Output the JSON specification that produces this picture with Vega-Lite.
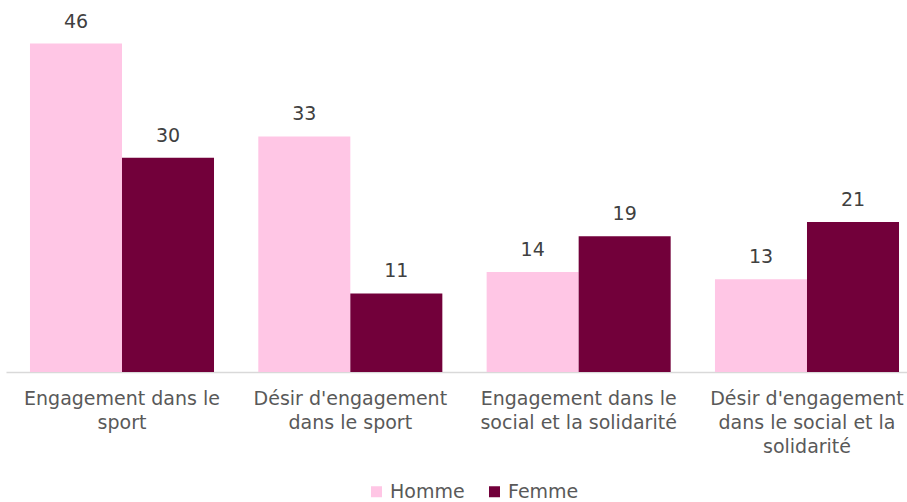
{
  "$schema": "https://vega.github.io/schema/vega-lite/v6.json",
  "width": 901,
  "height": 357,
  "autosize": {"type": "none"},
  "padding": {"left": 6, "top": 15, "right": 0, "bottom": 130},
  "background": "white",
  "config": {
    "view": {"stroke": null},
    "font": "DejaVu Sans"
  },
  "data": {
    "values": [
      {"cat": "Engagement dans le|sport", "sexe": "Homme", "val": 46},
      {"cat": "Engagement dans le|sport", "sexe": "Femme", "val": 30},
      {"cat": "Désir d'engagement|dans le sport", "sexe": "Homme", "val": 33},
      {"cat": "Désir d'engagement|dans le sport", "sexe": "Femme", "val": 11},
      {"cat": "Engagement dans le|social et la solidarité", "sexe": "Homme", "val": 14},
      {"cat": "Engagement dans le|social et la solidarité", "sexe": "Femme", "val": 19},
      {"cat": "Désir d'engagement|dans le social et la|solidarité", "sexe": "Homme", "val": 13},
      {"cat": "Désir d'engagement|dans le social et la|solidarité", "sexe": "Femme", "val": 21}
    ]
  },
  "encoding": {
    "x": {
      "field": "cat", "type": "nominal", "sort": null, "title": null,
      "scale": {"paddingInner": 0.194, "paddingOuter": 0.07, "align": 0.75},
      "axis": {
        "labelAngle": 0, "labelExpr": "split(datum.label, '|')",
        "labelFontSize": 19, "labelColor": "#595959", "labelLineHeight": 24,
        "labelPadding": 17, "ticks": false, "domainColor": "#d9d9d9", "domainWidth": 1.5,
        "labelLimit": 300
      }
    },
    "xOffset": {"field": "sexe", "type": "nominal", "sort": ["Homme", "Femme"], "scale": {"paddingInner": 0, "paddingOuter": 0}},
    "y": {"field": "val", "type": "quantitative", "scale": {"domain": [0, 50]}, "axis": null}
  },
  "layer": [
    {
      "mark": {"type": "bar"},
      "encoding": {
        "color": {
          "field": "sexe", "type": "nominal",
          "scale": {"domain": ["Homme", "Femme"], "range": ["#ffc6e5", "#72003a"]},
          "legend": {
            "orient": "none", "legendX": 361, "legendY": 467,
            "direction": "horizontal", "title": null,
            "symbolType": "square", "symbolSize": 121, "symbolStrokeWidth": 0,
            "labelFontSize": 19, "labelColor": "#595959", "columnPadding": 20,
            "labelOffset": 4
          }
        }
      }
    },
    {
      "mark": {"type": "text", "dy": -22, "fontSize": 19, "color": "#404040"},
      "encoding": {"text": {"field": "val", "type": "quantitative"}}
    }
  ]
}
